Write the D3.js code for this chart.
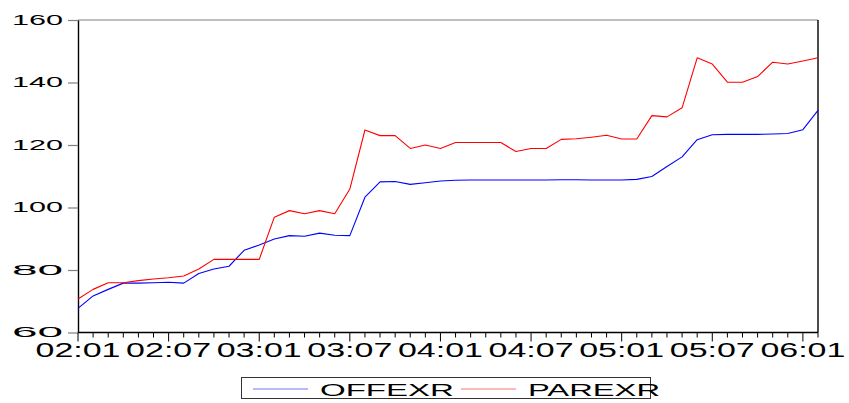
<!DOCTYPE html>
<html>
<head>
<meta charset="utf-8">
<script src="https://cdn.jsdelivr.net/npm/d3@7"></script>
<style>
  body { margin: 0; background: #fff; }
  svg { display: block; font-family: "Liberation Sans", Arial, sans-serif; }
</style>
</head>
<body>
<svg id="chart" width="849" height="403"></svg>
<script>
// monthly observations 2002:01 .. 2006:02
const startYear = 2002;
const tickLabels = ['02:01', '02:07', '03:01', '03:07', '04:01', '04:07', '05:01', '05:07', '06:01'];
const yTicks = [60, 80, 100, 120, 140, 160];

const offexr = [
  67.7, 71.7, 73.8, 75.8, 75.8, 75.9, 76.1, 75.8, 78.9, 80.3, 81.2, 86.3,
  88.0, 89.9, 91.0, 90.8, 91.8, 91.1, 91.0, 103.3, 108.2, 108.3, 107.4, 107.9,
  108.5, 108.7, 108.8, 108.8, 108.8, 108.8, 108.8, 108.8, 108.9, 108.9, 108.8, 108.8,
  108.8, 109.0, 109.9, 113.1, 116.2, 121.7, 123.3, 123.4, 123.4, 123.4, 123.5, 123.7,
  124.9, 131.1
];
const parexr = [
  70.7, 73.8, 75.9, 75.9, 76.6, 77.1, 77.5, 78.1, 80.3, 83.4, 83.4, 83.4,
  83.4, 96.9, 99.0, 98.0, 99.0, 98.0, 105.9, 124.8, 123.0, 123.0, 118.9, 120.0,
  118.9, 120.8, 120.8, 120.8, 120.8, 117.9, 118.9, 118.9, 121.8, 122.0, 122.5, 123.1,
  121.9, 121.9, 129.4, 129.0, 131.9, 147.9, 145.9, 140.1, 140.1, 141.9, 146.5, 145.9,
  146.9, 147.9
];

const series = [
  { name: 'OFFEXR', color: '#0000ff', values: offexr },
  { name: 'PAREXR', color: '#ff0000', values: parexr }
];

const margin = { left: 78, right: 818, top: 20, bottom: 332.5 };
const svg = d3.select('#chart');

const x = d3.scaleLinear()
  .domain([0, offexr.length - 1])
  .range([margin.left, margin.right]);

const y = d3.scaleLinear()
  .domain([60, 160])
  .range([margin.bottom, margin.top]);

// frame: top gray, right black
svg.append('line')
  .attr('x1', margin.left).attr('x2', margin.right)
  .attr('y1', margin.top).attr('y2', margin.top)
  .attr('stroke', '#808080').attr('stroke-width', 1.2);
svg.append('line')
  .attr('x1', margin.right).attr('x2', margin.right)
  .attr('y1', margin.top).attr('y2', margin.bottom)
  .attr('stroke', '#000').attr('stroke-width', 1.4);

// y axis
const yAxis = svg.append('g')
  .attr('transform', `translate(${margin.left},0)`)
  .call(d3.axisLeft(y).tickValues(yTicks).tickSize(10).tickSizeOuter(0).tickPadding(5));
yAxis.select('.domain').attr('stroke', '#000').attr('stroke-width', 1.4);
yAxis.selectAll('.tick line').attr('stroke', '#808080').attr('stroke-width', 1.2);
yAxis.selectAll('.tick text')
  .attr('fill', '#000')
  .attr('font-size', 15)
  .attr('dy', '0.28em')
  .attr('x', -15)
  .attr('textLength', 51)
  .attr('lengthAdjust', 'spacingAndGlyphs');

// x axis: minor ticks monthly, major every 6 months with labels
const xAxis = svg.append('g')
  .attr('transform', `translate(0,${margin.bottom})`);
xAxis.append('line')
  .attr('x1', margin.left).attr('x2', margin.right)
  .attr('stroke', '#000').attr('stroke-width', 1.4);
xAxis.selectAll('.mtick')
  .data(d3.range(offexr.length))
  .join('line')
  .attr('class', 'mtick')
  .attr('x1', d => x(d)).attr('x2', d => x(d))
  .attr('y1', 0).attr('y2', d => d % 6 === 0 ? 9 : 5)
  .attr('stroke', '#000').attr('stroke-width', 1);
xAxis.selectAll('.xlabel')
  .data(tickLabels)
  .join('text')
  .attr('class', 'xlabel')
  .attr('x', (d, i) => x(i * 6))
  .attr('y', 24.5)
  .attr('text-anchor', 'middle')
  .attr('font-size', 19.5)
  .attr('textLength', 85)
  .attr('lengthAdjust', 'spacingAndGlyphs')
  .text(d => d);

// lines
const line = d3.line()
  .x((d, i) => x(i))
  .y(d => y(d));

svg.append('g')
  .selectAll('path')
  .data(series)
  .join('path')
  .attr('fill', 'none')
  .attr('stroke', d => d.color)
  .attr('stroke-width', 1.1)
  .attr('stroke-linejoin', 'round')
  .attr('d', d => line(d.values));

// legend
const legend = svg.append('g');
legend.append('rect')
  .attr('x', 241.5).attr('y', 377.5)
  .attr('width', 409).attr('height', 21)
  .attr('fill', 'none')
  .attr('stroke', '#333').attr('stroke-width', 1);

const legendItems = [
  { s: series[0], x0: 253, x1: 308, tx: 320, tw: 134 },
  { s: series[1], x0: 461, x1: 516, tx: 528, tw: 132 }
];
legendItems.forEach(d => {
  legend.append('line')
    .attr('x1', d.x0).attr('x2', d.x1)
    .attr('y1', 389).attr('y2', 389)
    .attr('stroke', d.s.color).attr('stroke-opacity', 0.55).attr('stroke-width', 1);
  legend.append('text')
    .attr('x', d.tx).attr('y', 395.5)
    .attr('font-size', 16.3)
    .attr('textLength', d.tw)
    .attr('lengthAdjust', 'spacingAndGlyphs')
    .text(d.s.name);
});
</script>
</body>
</html>
